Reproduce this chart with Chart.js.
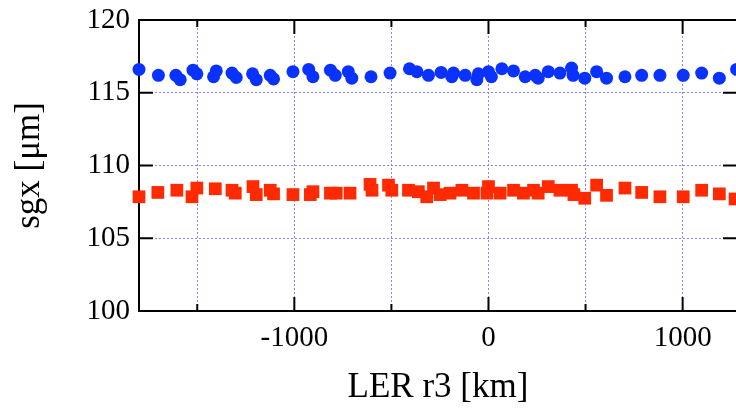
<!DOCTYPE html>
<html>
<head>
<meta charset="utf-8">
<script src="https://cdn.jsdelivr.net/npm/chart.js@4/dist/chart.umd.min.js"></script>
<style>
html,body{margin:0;padding:0;background:#fff;overflow:hidden;}
#wrap{width:736px;height:409px;overflow:hidden;position:relative;}
canvas{display:block;}
</style>
</head>
<body>
<div id="wrap"><canvas id="c" width="737" height="409" style="width:737px;height:409px"></canvas></div>
<script>
// LER r3 [km] positions and sgx [um] values
const blueX = [-1800,-1700,-1610,-1588,-1522,-1502,-1416,-1402,-1321,-1299,-1215,-1196,-1124,-1107,-1007,-926,-904,-814,-789,-722,-704,-605,-507,-407,-369,-309,-244,-189,-180,-120,-60,-52,0,15,69,129,189,241,256,308,368,428,436,496,557,608,703,789,883,1003,1098,1189,1278];
const blueY = [116.6,116.2,116.2,115.9,116.55,116.3,116.1,116.5,116.35,116.05,116.3,115.9,116.2,115.95,116.45,116.6,116.1,116.55,116.2,116.45,116.0,116.1,116.35,116.65,116.45,116.2,116.4,116.1,116.35,116.2,115.9,116.3,116.45,116.1,116.65,116.5,116.1,116.2,116.0,116.45,116.35,116.7,116.2,116.0,116.45,116.0,116.1,116.2,116.2,116.2,116.35,116.0,116.6];
const redX = [-1800,-1703,-1605,-1527,-1502,-1407,-1321,-1304,-1213,-1196,-1124,-1107,-1007,-918,-904,-814,-784,-713,-610,-600,-515,-498,-412,-361,-318,-283,-249,-198,-137,-77,-8,0,60,129,180,232,256,308,368,428,440,496,557,608,703,789,883,1003,1098,1189,1270];
const redY = [107.85,108.15,108.3,107.85,108.45,108.4,108.3,108.1,108.55,108.0,108.3,108.05,108.0,108.0,108.2,108.1,108.1,108.1,108.7,108.3,108.65,108.3,108.3,108.2,107.85,108.45,108.0,108.1,108.3,108.1,108.1,108.55,108.1,108.3,108.1,108.3,108.1,108.55,108.3,108.3,108.0,107.75,108.65,107.95,108.45,108.15,107.85,107.85,108.3,108.05,107.7];
const xMin = -1800, xMax = 1280;
const xTickValues = [-1500, -1000, -500, 0, 500, 1000];
const xLabelStep = 1000;
const yMin = 100, yMax = 120;
const yTickValues = [100, 105, 110, 115, 120];
const xTitle = 'LER r3 [km]';
const yTitle = 'sgx [\u03bcm]';

const toPts = (xs, ys) => xs.map((v, i) => ({x: v, y: ys[i]}));

const framePlugin = {
  id: 'frame',
  beforeDatasetsDraw(chart) {
    const {ctx, chartArea: {left, right, top, bottom}, scales: {x, y}} = chart;
    ctx.save();
    ctx.strokeStyle = '#000';
    ctx.lineWidth = 2;
    ctx.strokeRect(left, top, right - left, bottom - top);
    ctx.beginPath();
    x.ticks.forEach(t => {
      const px = x.getPixelForValue(t.value);
      const len = (t.value % xLabelStep === 0) ? 14 : 7;
      ctx.moveTo(px, bottom); ctx.lineTo(px, bottom - len);
      ctx.moveTo(px, top); ctx.lineTo(px, top + len);
    });
    y.ticks.forEach(t => {
      const py = y.getPixelForValue(t.value);
      ctx.moveTo(left, py); ctx.lineTo(left + 14, py);
      ctx.moveTo(right, py); ctx.lineTo(right - 14, py);
    });
    ctx.stroke();
    ctx.restore();
  }
};

new Chart(document.getElementById('c'), {
  type: 'scatter',
  data: {
    datasets: [
      {data: toPts(blueX, blueY), pointStyle: 'circle', pointRadius: 6.5, pointHoverRadius: 6.5,
       backgroundColor: '#0a32ff', borderColor: '#0a32ff', borderWidth: 0, clip: false},
      {data: toPts(redX, redY), pointStyle: 'rect', pointRadius: 9, pointHoverRadius: 9,
       backgroundColor: '#ff2a00', borderColor: '#ff2a00', borderWidth: 0, clip: false}
    ]
  },
  options: {
    responsive: false,
    animation: false,
    events: [],
    layout: {autoPadding: false, padding: {top: 20, right: 0, left: 0, bottom: 0}},
    plugins: {legend: {display: false}, tooltip: {enabled: false}},
    scales: {
      x: {
        type: 'linear', min: xMin, max: xMax,
        afterBuildTicks(s) { s.ticks = xTickValues.map(v => ({value: v})); },
        afterFit(s) { s.height = 98; s.paddingLeft = 0; s.paddingRight = 0; },
        grid: {color: 'rgba(120,120,255,0.9)', lineWidth: 1, drawTicks: false},
        border: {display: false, dash: [2, 2]},
        ticks: {
          autoSkip: false, maxRotation: 0, minRotation: 0, padding: 10,
          color: '#000', font: {family: 'Liberation Serif', size: 29},
          callback: v => (v % xLabelStep === 0) ? String(v) : ''
        },
        title: {display: true, text: xTitle, color: '#000', font: {family: 'Liberation Serif', size: 35}, padding: {top: 0, bottom: 0}}
      },
      y: {
        type: 'linear', min: yMin, max: yMax,
        afterBuildTicks(s) { s.ticks = yTickValues.map(v => ({value: v})); },
        afterFit(s) { s.width = 139; s.paddingTop = 0; s.paddingBottom = 0; },
        grid: {color: 'rgba(120,120,255,0.9)', lineWidth: 1, drawTicks: false},
        border: {display: false, dash: [2, 2]},
        ticks: {
          autoSkip: false, padding: 9,
          color: '#000', font: {family: 'Liberation Serif', size: 29},
          callback: v => String(v)
        },
        title: {display: true, text: yTitle, color: '#000', font: {family: 'Liberation Serif', size: 35}, padding: {top: 9, bottom: 0}}
      }
    }
  },
  plugins: [framePlugin]
});
</script>
</body>
</html>
